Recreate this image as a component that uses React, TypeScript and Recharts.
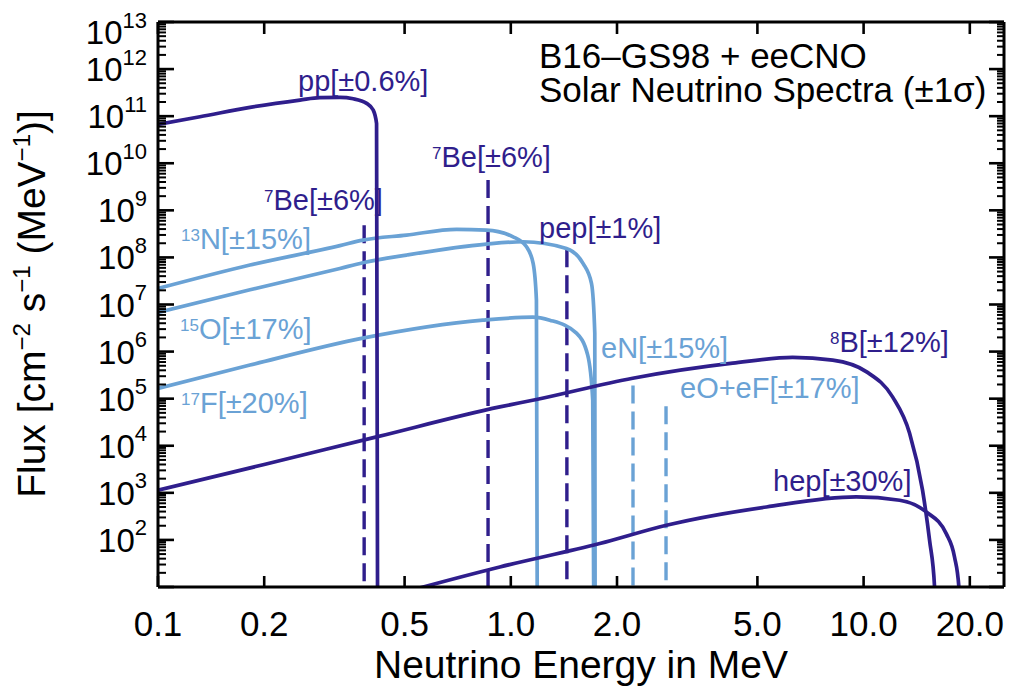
import React from 'react';
import { LineChart, Line, XAxis, YAxis } from 'recharts';

const NAVY = '#2f1e8c';
const LIGHT = '#6aa2d5';
const FONT = '"Liberation Sans", Arial, Helvetica, sans-serif';

// ---- data (energy in MeV, flux in cm^-2 s^-1 MeV^-1) ----
const ppEnergy = [0.1, 0.1315, 0.1823, 0.2525, 0.2877, 0.3278, 0.3575, 0.3903, 0.4074, 0.4164, 0.4193];
const ppFlux = [6.7e10, 9.7e10, 1.54e11, 2.2e11, 2.48e11, 2.5e11, 2.34e11, 1.87e11, 1.35e11, 7.0e10, 1];

const n13Energy = [0.1, 0.1823, 0.3278, 0.3807, 0.5063, 0.7019, 0.853, 1.015, 1.108, 1.157, 1.182, 1.189];
const n13Flux = [2.19e7, 6.9e7, 1.78e8, 2.33e8, 2.98e8, 3.94e8, 3.8e8, 2.74e8, 1.68e8, 7.45e7, 1.24e7, 1];

const o15Energy = [0.1, 0.1823, 0.3278, 0.3807, 0.5063, 0.853, 1.083, 1.438, 1.602, 1.693, 1.73, 1.734];
const o15Flux = [6.78e6, 2.06e7, 5.83e7, 7.68e7, 1.12e8, 1.92e8, 2.15e8, 1.55e8, 7.45e7, 2.8e7, 2.43e6, 1];

const f17Energy = [0.1, 0.1823, 0.3807, 0.833, 1.154, 1.29, 1.535, 1.652, 1.707, 1.72];
const f17Flux = [1.65e5, 5.17e5, 1.93e6, 4.65e6, 5.38e6, 4.65e6, 2.46e6, 8.4e5, 9.3e4, 1];

const b8Energy = [0.1, 0.2, 0.4164, 0.9307, 1.182, 2.216, 4.256, 6.293, 8.17, 10.2, 12.08, 13.5, 14.69, 15.38, 15.89, 16.0];
const b8Flux = [1.135e3, 4.0e3, 1.54e4, 6.68e4, 9.6e4, 2.72e5, 5.68e5, 7.5e5, 6.57e5, 3.71e5, 1.09e5, 1.85e4, 1.14e3, 98, 10, 1];

const hepEnergy = [0.5, 0.5646, 0.9307, 1.787, 2.761, 5.302, 9.535, 12.65, 15.05, 17.15, 18.1, 18.62, 18.7];
const hepFlux = [7.8, 10, 26.6, 83.7, 205, 501, 818, 697, 393, 136, 43.4, 10, 1];

// line sources (energy, line-flux top)
const be7aEnergy = [0.384, 0.384];
const be7aFlux = [4.8e8, 1];
const be7bEnergy = [0.862, 0.862];
const be7bFlux = [4.4e9, 1];
const pepEnergy = [1.442, 1.442];
const pepFlux = [1.5e8, 1];
const eNEnergy = [2.22, 2.22];
const eNFlux = [1.9e5, 1];
const eOFEnergy = [2.754, 2.754];
const eOFFlux = [6.9e4, 1];

// ticks
const xTickValues = [0.1, 0.2, 0.5, 1, 2, 5, 10, 20];
const xTickLabels = ['0.1', '0.2', '0.5', '1.0', '2.0', '5.0', '10.0', '20.0'];
const yMajorExponents = [1, 2, 3, 4, 5, 6, 7, 8, 9, 10, 11, 12, 13];
const yMinorMultipliers = [2, 3, 4, 5, 6, 7, 8, 9];
const yLabelledExponents = [2, 3, 4, 5, 6, 7, 8, 9, 10, 11, 12, 13];

const zip = (e: number[], f: number[]) => e.map((v, i) => ({ e: v, f: f[i] }));

const yTicks: number[] = [];
yMajorExponents.forEach((k) => {
  yTicks.push(Math.pow(10, k));
  if (k < 13) yMinorMultipliers.forEach((m) => yTicks.push(m * Math.pow(10, k)));
});

const isMajor = (v: number) => Math.abs(Math.log10(v) - Math.round(Math.log10(v))) < 1e-6;

const LeftTick = (props: any) => {
  const { x, y, payload } = props;
  const v = payload.value;
  const major = isMajor(v);
  const exp = Math.round(Math.log10(v));
  const shift = exp === 13 ? 10 : 0;
  return (
    <g>
      <line x1={x} x2={x + (major ? 16 : 8)} y1={y} y2={y} stroke="#000" strokeWidth={major ? 2.6 : 2} />
      {major && yLabelledExponents.includes(exp) && (
        <text x={x - 11} y={y + 12 + shift} textAnchor="end" fontFamily={FONT} fontSize={33} fill="#000">
          <tspan>10</tspan>
          <tspan dy={-16.5} fontSize={22}>{exp}</tspan>
        </text>
      )}
    </g>
  );
};

const RightTick = (props: any) => {
  const { x, y, payload } = props;
  const major = isMajor(payload.value);
  return <line x1={x} x2={x - (major ? 15 : 7)} y1={y} y2={y} stroke="#000" strokeWidth={major ? 2.6 : 2} />;
};

const BottomTick = (props: any) => {
  const { x, y, payload } = props;
  const i = xTickValues.indexOf(payload.value);
  return (
    <g>
      <line x1={x} x2={x} y1={y} y2={y - 11} stroke="#000" strokeWidth={2.6} />
      <text x={x} y={y + 49} textAnchor="middle" fontFamily={FONT} fontSize={35} fill="#000">
        {xTickLabels[i]}
      </text>
    </g>
  );
};

const TopTick = (props: any) => {
  const { x, y } = props;
  return <line x1={x} x2={x} y1={y} y2={y + 12} stroke="#000" strokeWidth={2.6} />;
};

const axisLine = { stroke: '#000', strokeWidth: 3 };

const Ann = ({ x, y, sup, text, color }: { x: number; y: number; sup?: string; text: string; color: string }) => (
  <text x={x} y={y} fontFamily={FONT} fontSize={29} fill={color}>
    {sup ? (
      <>
        <tspan fontSize={17} dy={-8}>{sup}</tspan>
        <tspan dy={8}>{text}</tspan>
      </>
    ) : (
      text
    )}
  </text>
);

export default function App() {
  const lw = 3.7;
  const dw = 3.4;
  const dash = '18 8';
  return (
    <div style={{ position: 'absolute', left: 0, top: 0, width: 1011, height: 689, background: '#fff' }}>
      <LineChart width={1011} height={689} margin={{ top: 12, right: 2, bottom: 42, left: 8 }}>
        <XAxis
          xAxisId="b"
          dataKey="e"
          type="number"
          scale="log"
          domain={[0.1, 25]}
          allowDataOverflow
          ticks={xTickValues}
          interval={0}
          tick={<BottomTick />}
          tickLine={false}
          tickSize={0}
          tickMargin={0}
          axisLine={axisLine}
          height={60}
        />
        <XAxis
          xAxisId="t"
          orientation="top"
          dataKey="e"
          type="number"
          scale="log"
          domain={[0.1, 25]}
          allowDataOverflow
          ticks={xTickValues}
          interval={0}
          tick={<TopTick />}
          tickLine={false}
          tickSize={0}
          tickMargin={0}
          axisLine={axisLine}
          height={10}
        />
        <YAxis
          yAxisId="l"
          type="number"
          scale="log"
          domain={[10, 1e13]}
          allowDataOverflow
          ticks={yTicks}
          interval={0}
          tick={<LeftTick />}
          tickLine={false}
          tickSize={0}
          tickMargin={0}
          axisLine={axisLine}
          width={150}
        />
        <YAxis
          yAxisId="r"
          orientation="right"
          type="number"
          scale="log"
          domain={[10, 1e13]}
          allowDataOverflow
          ticks={yTicks}
          interval={0}
          tick={<RightTick />}
          tickLine={false}
          tickSize={0}
          tickMargin={0}
          axisLine={axisLine}
          width={5}
        />

        <Line xAxisId="b" yAxisId="l" data={zip(be7aEnergy, be7aFlux)} dataKey="f" type="linear" stroke={NAVY} strokeWidth={dw} strokeDasharray={dash} dot={false} isAnimationActive={false} />
        <Line xAxisId="b" yAxisId="l" data={zip(be7bEnergy, be7bFlux)} dataKey="f" type="linear" stroke={NAVY} strokeWidth={dw} strokeDasharray={dash} dot={false} isAnimationActive={false} />
        <Line xAxisId="b" yAxisId="l" data={zip(pepEnergy, pepFlux)} dataKey="f" type="linear" stroke={NAVY} strokeWidth={dw} strokeDasharray={dash} dot={false} isAnimationActive={false} />
        <Line xAxisId="b" yAxisId="l" data={zip(eNEnergy, eNFlux)} dataKey="f" type="linear" stroke={LIGHT} strokeWidth={dw} strokeDasharray={dash} dot={false} isAnimationActive={false} />
        <Line xAxisId="b" yAxisId="l" data={zip(eOFEnergy, eOFFlux)} dataKey="f" type="linear" stroke={LIGHT} strokeWidth={dw} strokeDasharray={dash} dot={false} isAnimationActive={false} />

        <Line xAxisId="b" yAxisId="l" data={zip(n13Energy, n13Flux)} dataKey="f" type="monotone" stroke={LIGHT} strokeWidth={lw} dot={false} isAnimationActive={false} />
        <Line xAxisId="b" yAxisId="l" data={zip(o15Energy, o15Flux)} dataKey="f" type="monotone" stroke={LIGHT} strokeWidth={lw} dot={false} isAnimationActive={false} />
        <Line xAxisId="b" yAxisId="l" data={zip(f17Energy, f17Flux)} dataKey="f" type="monotone" stroke={LIGHT} strokeWidth={lw} dot={false} isAnimationActive={false} />
        <Line xAxisId="b" yAxisId="l" data={zip(ppEnergy, ppFlux)} dataKey="f" type="monotone" stroke={NAVY} strokeWidth={lw} dot={false} isAnimationActive={false} />
        <Line xAxisId="b" yAxisId="l" data={zip(b8Energy, b8Flux)} dataKey="f" type="monotone" stroke={NAVY} strokeWidth={lw} dot={false} isAnimationActive={false} />
        <Line xAxisId="t" yAxisId="r" data={zip(hepEnergy, hepFlux)} dataKey="f" type="monotone" stroke={NAVY} strokeWidth={lw} dot={false} isAnimationActive={false} />
      </LineChart>

      <svg width={1011} height={689} style={{ position: 'absolute', left: 0, top: 0, pointerEvents: 'none' }}>
        <text x={539} y={68} fontFamily={FONT} fontSize={35} fill="#000">B16–GS98 + eeCNO</text>
        <text x={539} y={102} fontFamily={FONT} fontSize={35} fill="#000">Solar Neutrino Spectra (±1σ)</text>

        <Ann x={298} y={91} text="pp[±0.6%]" color={NAVY} />
        <Ann x={264} y={210} sup="7" text="Be[±6%]" color={NAVY} />
        <Ann x={432} y={167} sup="7" text="Be[±6%]" color={NAVY} />
        <Ann x={539} y={238} text="pep[±1%]" color={NAVY} />
        <Ann x={181} y={249} sup="13" text="N[±15%]" color={LIGHT} />
        <Ann x={180} y={339} sup="15" text="O[±17%]" color={LIGHT} />
        <Ann x={181} y={413} sup="17" text="F[±20%]" color={LIGHT} />
        <Ann x={601} y={358} text="eN[±15%]" color={LIGHT} />
        <Ann x={680} y={398} text="eO+eF[±17%]" color={LIGHT} />
        <Ann x={830} y={352} sup="8" text="B[±12%]" color={NAVY} />
        <Ann x={773} y={491} text="hep[±30%]" color={NAVY} />

        <text x={581} y={678} textAnchor="middle" fontFamily={FONT} fontSize={39} fill="#000">Neutrino Energy in MeV</text>
        <text x={45} y={304} transform="rotate(-90, 45, 304)" textAnchor="middle" fontFamily={FONT} fontSize={39} fill="#000">
          <tspan>Flux [cm</tspan>
          <tspan fontSize={24} dy={-15}>−2</tspan>
          <tspan dy={15}> s</tspan>
          <tspan fontSize={24} dy={-15}>−1</tspan>
          <tspan dy={15}> (MeV</tspan>
          <tspan fontSize={24} dy={-15}>−1</tspan>
          <tspan dy={15}>)]</tspan>
        </text>
      </svg>
    </div>
  );
}
